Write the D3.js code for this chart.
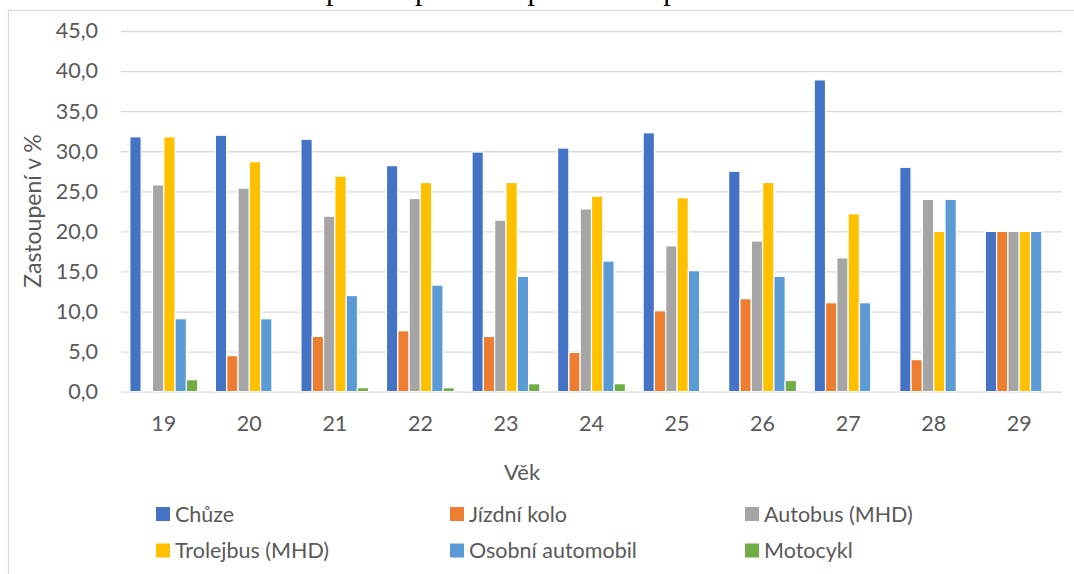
<!DOCTYPE html>
<html>
<head>
<meta charset="utf-8">
<script src="https://cdn.jsdelivr.net/npm/d3@7"></script>
<style>
  html, body { margin: 0; padding: 0; background: #fff; }
  svg { display: block; }
  text { font-family: Lato, "Open Sans", sans-serif; fill: #595959; }
</style>
</head>
<body>
<svg id="chart" width="1074" height="574"></svg>
<script>
const categories = ["19", "20", "21", "22", "23", "24", "25", "26", "27", "28", "29"];
const seriesNames = ["Chůze", "Jízdní kolo", "Autobus (MHD)", "Trolejbus (MHD)", "Osobní automobil", "Motocykl"];
const chuze      = [31.8, 32.0, 31.5, 28.2, 29.9, 30.4, 32.3, 27.5, 38.9, 28.0, 20.0];
const jizdniKolo = [0.0, 4.5, 6.9, 7.6, 6.9, 4.9, 10.1, 11.6, 11.1, 4.0, 20.0];
const autobus    = [25.8, 25.4, 21.9, 24.1, 21.4, 22.8, 18.2, 18.8, 16.7, 24.0, 20.0];
const trolejbus  = [31.8, 28.7, 26.9, 26.1, 26.1, 24.4, 24.2, 26.1, 22.2, 20.0, 20.0];
const osobni     = [9.1, 9.1, 12.0, 13.3, 14.4, 16.3, 15.1, 14.4, 11.1, 24.0, 20.0];
const motocykl   = [1.5, 0.0, 0.5, 0.5, 1.0, 1.0, 0.0, 1.4, 0.0, 0.0, 0.0];
const yTicks = [0, 5, 10, 15, 20, 25, 30, 35, 40, 45];
const colors = ["#4472C4", "#ED7D31", "#A5A5A5", "#FFC000", "#5B9BD5", "#70AD47"];
const titleText = "Zastoupení dopravních prostředků podle věku";
const yTitle = "Zastoupení v %";
const xTitle = "Věk";

const seriesValues = [chuze, jizdniKolo, autobus, trolejbus, osobni, motocykl];
const table = categories.map((c, i) => {
  const row = { cat: c };
  seriesNames.forEach((s, j) => row[s] = seriesValues[j][i]);
  return row;
});

const svg = d3.select("#chart");
const pLeft = 121, pRight = 1062, pTop = 31, pBottom = 391.7;

// caption above the chart frame (cut off at the top edge, as in the source)
svg.append("text")
  .attr("x", 520).attr("y", -0.5)
  .attr("text-anchor", "middle")
  .style("font-family", "'Liberation Serif', 'Times New Roman', serif")
  .style("font-size", "30px")
  .style("fill", "#000")
  .text(titleText);

// chart border
svg.append("rect")
  .attr("x", 8.5).attr("y", 10.5)
  .attr("width", 1100).attr("height", 600)
  .attr("fill", "#fff")
  .attr("stroke", "#d9d9d9").attr("stroke-width", 1.3);

const x = d3.scaleBand().domain(categories).range([pLeft, pRight]).padding(0);
const gapW = 8.85;
const xs = d3.scaleBand().domain(seriesNames).range([gapW, x.bandwidth() - gapW]).padding(0);
const y = d3.scaleLinear().domain([0, 45]).range([pBottom, pTop]);

const loc = d3.formatLocale({ decimal: ",", thousands: " ", grouping: [3], currency: ["", ""] });
const fmt = loc.format(".1f");

// gridlines
const grid = svg.append("g").attr("transform", `translate(${pLeft},0)`)
  .call(d3.axisLeft(y).tickValues(yTicks).tickSize(-(pRight - pLeft)).tickFormat(""));
grid.select(".domain").remove();
grid.selectAll("line").attr("stroke", "#d9d9d9").attr("stroke-width", 1.3);

// y axis labels
const ya = svg.append("g").attr("transform", `translate(${pLeft},0)`)
  .call(d3.axisLeft(y).tickValues(yTicks).tickSize(0).tickPadding(23).tickFormat(fmt));
ya.select(".domain").remove();
ya.selectAll("text").style("font-size", "21.5px").style("fill", "#595959")
  .style("font-family", "Lato, sans-serif");

// bars
const groups = svg.append("g").selectAll("g")
  .data(table).join("g")
  .attr("transform", d => `translate(${x(d.cat)},0)`);
groups.selectAll("rect")
  .data(d => seriesNames.map((s, j) => ({ s, j, v: d[s] })).filter(e => e.v > 0))
  .join("rect")
  .attr("x", e => xs(e.s))
  .attr("width", xs.bandwidth())
  .attr("y", e => y(e.v))
  .attr("height", e => y(0) - y(e.v))
  .attr("fill", e => colors[e.j])
  .attr("stroke", "#fff").attr("stroke-width", 1.2);

// x axis labels
const xa = svg.append("g").attr("transform", `translate(0,${pBottom})`)
  .call(d3.axisBottom(x).tickSize(0).tickPadding(24));
xa.select(".domain").remove();
xa.selectAll("text").style("font-size", "21.5px").style("fill", "#595959")
  .style("font-family", "Lato, sans-serif");

// axis titles
svg.append("text")
  .attr("transform", "translate(41,211) rotate(-90)")
  .attr("text-anchor", "middle")
  .style("font-size", "23px")
  .text(yTitle);
svg.append("text")
  .attr("x", 522).attr("y", 480)
  .attr("text-anchor", "middle")
  .style("font-size", "22px")
  .text(xTitle);

// legend
const legX = [156, 450, 745];
const legY = [514, 550.5];
const leg = svg.append("g").selectAll("g")
  .data(seriesNames).join("g")
  .attr("transform", (d, i) => `translate(${legX[i % 3]},${legY[Math.floor(i / 3)]})`);
leg.append("rect")
  .attr("x", 0).attr("y", -7).attr("width", 14).attr("height", 14)
  .attr("fill", (d, i) => colors[i]);
leg.append("text")
  .attr("x", 19).attr("y", 7.5)
  .style("font-size", "21.5px")
  .text(d => d);
</script>
</body>
</html>
